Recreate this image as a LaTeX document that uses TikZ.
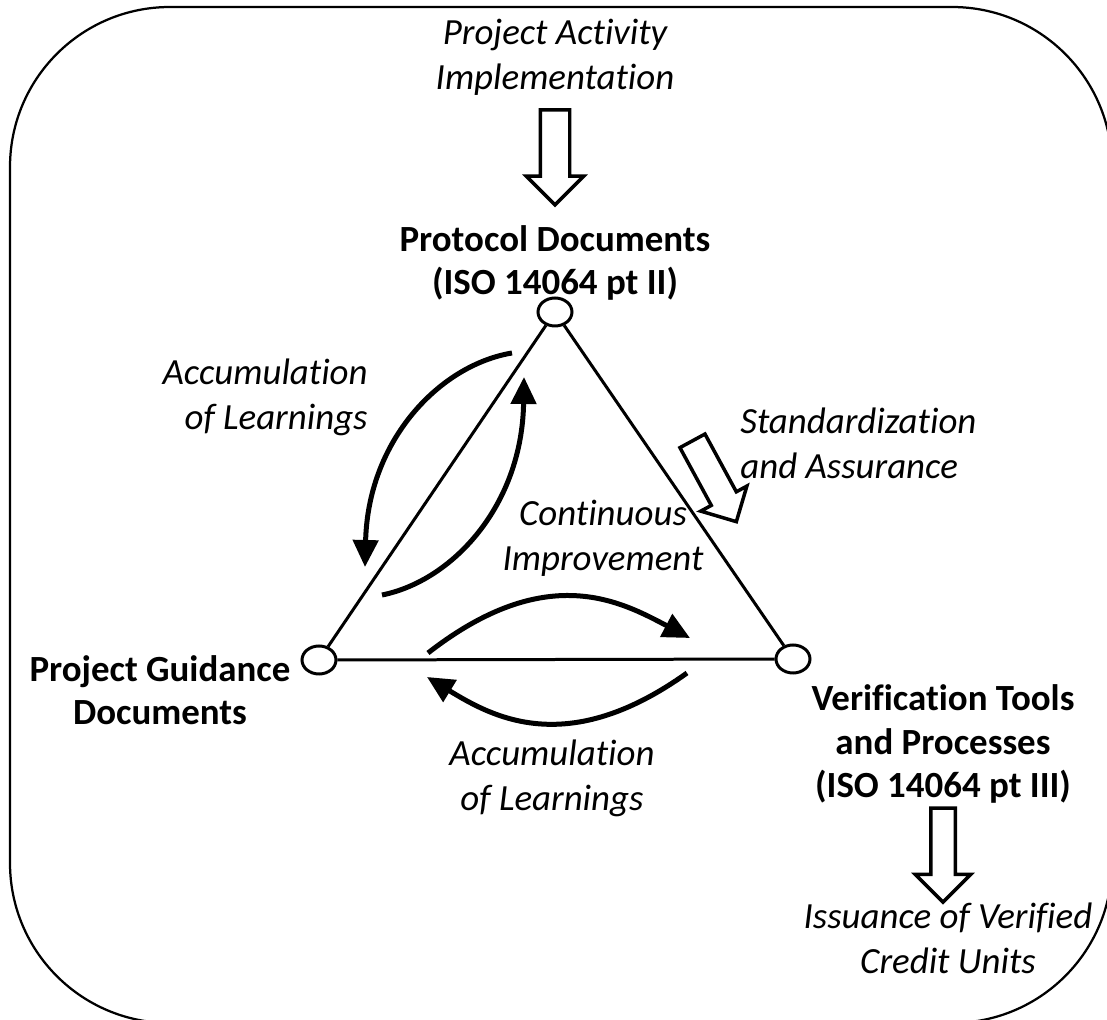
\documentclass[tikz,border=0pt]{standalone}
\usepackage{fontspec}
\setmainfont{Carlito}[RawFeature={-liga;-clig;-calt;-dlig}]
\usetikzlibrary{arrows.meta, positioning, shapes.geometric, shapes.arrows}

\begin{document}
\begin{tikzpicture}[
  x=0.02cm, y=0.02cm,
  vtx/.style={draw, ellipse, line width=0.06cm,
              minimum width=0.68cm, minimum height=0.56cm, inner sep=0pt},
  side/.style={line width=0.06cm},
  cyc/.style={-{Triangle[length=0.54cm, width=0.5cm]}, line width=0.1cm},
  blockarr/.style={draw, single arrow, line width=0.07cm,
                   inner xsep=0pt, single arrow tip angle=90},
  hd/.style={font=\fontsize{21}{24.5}\selectfont\bfseries, align=center, inner sep=0pt},
  lbl/.style={font=\fontsize{21}{25.5}\selectfont\itshape, align=center, inner sep=0pt},
  frame/.style={line width=0.045cm, rounded corners=3.2cm},
]
\useasboundingbox (0,0) rectangle (1107,-1020);
\clip (0,0) rectangle (1107,-1020);

% Frame
\draw[frame] (10,-7) rectangle (1112,-1023);

% Corners of the triangle
\node[vtx] (proto) at (555,-312) {};
\node[vtx] (guide) at (319,-660) {};
\node[vtx] (verif) at (793,-659) {};

\draw[side] (proto) -- (guide);
\draw[side] (proto) -- (verif);
\draw[side] (guide) -- (verif);

% Corner labels
\node[hd] (protoTxt) at (555,-263) {Protocol Documents\\(ISO 14064 pt II)};
\node[hd] (guideTxt) at (160,-690) {Project Guidance\\Documents};
\node[hd] (verifTxt) at (943,-744) {Verification Tools\\and Processes\\(ISO 14064 pt III)};

% In and out
\node[lbl] (actTxt) at (555,-57) {Project Activity\\Implementation};
\node[blockarr, rotate=-90, minimum height=1.9cm, inner ysep=0.26cm,
      single arrow head extend=0.28cm] (inarrow) at (555,-150) {};
\node[blockarr, rotate=-90, minimum height=1.88cm, inner ysep=0.21cm,
      single arrow head extend=0.31cm] (outarrow) at (943,-849) {};
\node[lbl] (issueTxt) at (948,-938) {Issuance of Verified\\Credit Units};

% Standardization
\node[blockarr, rotate=-61.5, minimum height=1.84cm, inner ysep=0.25cm,
      single arrow head extend=0.24cm] (stdarrow) at (711,-475) {};
\node[lbl, align=left, anchor=west] (stdTxt) at (740,-443) {Standardization\\and Assurance};

% Learning loops
\coordinate (l1s) at (512,-353);
\coordinate (l1e) at (365,-567);
\coordinate (l2s) at (382,-595);
\coordinate (l2e) at (524,-377);
\coordinate (l3s) at (428,-653);
\coordinate (l3e) at (690,-638);
\coordinate (l4s) at (687,-673);
\coordinate (l4e) at (427,-677);
\draw[cyc] (l1s) .. controls (440,-365) and (368,-440) .. (l1e);
\draw[cyc] (l2s) .. controls (452,-581) and (522,-506) .. (l2e);
\draw[cyc] (l3s) .. controls (546,-561) and (620,-601) .. (l3e);
\draw[cyc] (l4s) .. controls (568,-758) and (494,-718) .. (l4e);

\node[lbl, align=right, anchor=east] (learnA) at (368,-397) {Accumulation\\of Learnings};
\node[lbl] (contTxt) at (603,-538) {Continuous\\Improvement};
\node[lbl] (learnB) at (552,-778) {Accumulation\\of Learnings};
\end{tikzpicture}
\end{document}
